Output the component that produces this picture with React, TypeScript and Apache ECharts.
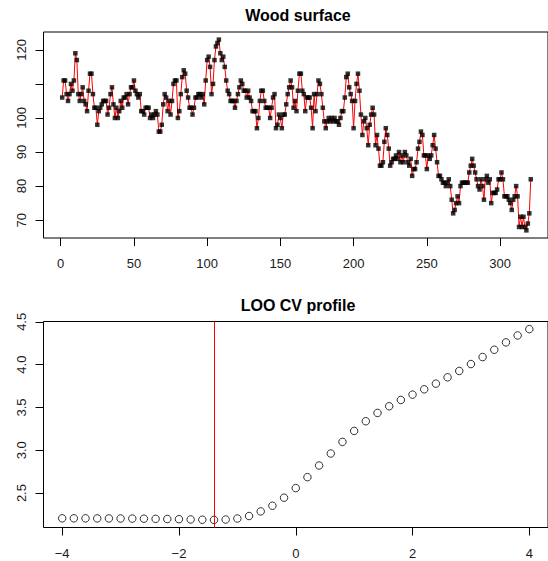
import React, { useEffect, useRef } from "react";
import * as echarts from "echarts";

// Wood surface profile
const surface = [
  106, 111, 111, 107, 105, 107, 110, 108, 111, 119,
  117, 107, 105, 107, 109, 105, 104, 102, 108, 113,
  113, 107, 103, 103, 98, 102, 103, 104, 105, 105,
  105, 101, 103, 107, 109, 104, 100, 103, 100, 102,
  105, 103, 106, 106, 107, 104, 107, 109, 109, 111,
  108, 107, 106, 107, 102, 102, 101, 103, 103, 103,
  100, 101, 100, 101, 102, 101, 96, 96, 98, 104,
  107, 106, 102, 105, 101, 105, 110, 111, 111, 100,
  102, 107, 112, 114, 113, 108, 106, 103, 103, 101,
  103, 106, 106, 107, 107, 106, 107, 104, 111, 117,
  118, 115, 107, 110, 117, 121, 122, 123, 119, 117,
  118, 115, 111, 108, 107, 105, 105, 105, 103, 105,
  107, 109, 111, 110, 108, 108, 106, 108, 106, 105,
  102, 102, 102, 97, 100, 105, 108, 108, 105, 103,
  103, 103, 100, 103, 106, 107, 97, 98, 101, 100,
  97, 101, 101, 104, 107, 109, 111, 109, 103, 105,
  102, 108, 113, 113, 108, 107, 102, 106, 106, 106,
  103, 97, 107, 102, 107, 111, 110, 107, 103, 99,
  97, 99, 100, 99, 100, 99, 100, 99, 99, 98,
  100, 102, 102, 106, 112, 113, 109, 107, 105, 97,
  105, 110, 113, 108, 101, 95, 99, 100, 97, 92,
  98, 101, 103, 101, 92, 95, 91, 86, 86, 87,
  93, 97, 95, 91, 86, 87, 88, 88, 89, 88,
  90, 87, 89, 87, 90, 89, 87, 86, 88, 83,
  85, 85, 87, 91, 93, 96, 95, 89, 89, 85,
  89, 88, 89, 92, 95, 91, 87, 83, 83, 82,
  81, 81, 80, 81, 82, 80, 76, 72, 73, 75,
  77, 75, 80, 81, 81, 81, 81, 81, 84, 86,
  88, 86, 84, 82, 80, 79, 82, 80, 76, 82,
  83, 81, 82, 75, 78, 78, 78, 79, 82, 82,
  84, 82, 77, 77, 77, 76, 75, 73, 76, 77,
  80, 77, 68, 71, 68, 71, 68, 67, 69, 72, 82,
];
const topXTicks = [0, 50, 100, 150, 200, 250, 300];
const topYTicks = [70, 80, 90, 100, 110, 120];
const topYLabels = [70, 80, 90, 100, 120];

// LOO CV profile
const lambda = [
  -4, -3.8, -3.6, -3.4, -3.2, -3, -2.8, -2.6, -2.4, -2.2, -2, -1.8, -1.6, -1.4,
  -1.2, -1, -0.8, -0.6, -0.4, -0.2, 0, 0.2, 0.4, 0.6, 0.8, 1, 1.2, 1.4, 1.6,
  1.8, 2, 2.2, 2.4, 2.6, 2.8, 3, 3.2, 3.4, 3.6, 3.8, 4,
];
const cvScore = [
  2.205, 2.205, 2.205, 2.204, 2.204, 2.203, 2.202, 2.201, 2.199, 2.197, 2.195,
  2.192, 2.189, 2.187, 2.191, 2.203, 2.232, 2.286, 2.352, 2.446, 2.558, 2.686,
  2.822, 2.962, 3.098, 3.226, 3.339, 3.436, 3.514, 3.588, 3.65, 3.712, 3.778,
  3.852, 3.926, 4.007, 4.089, 4.174, 4.26, 4.341, 4.415,
];
const bottomXTicks = [-4, -2, 0, 2, 4];
const bottomYTicks = [2.5, 3, 3.5, 4, 4.5];
const lambdaOpt = -1.4;

const FONT = "'Liberation Sans', Arial, Helvetica, sans-serif";

export default function App() {
  const ref = useRef<HTMLDivElement>(null);
  useEffect(() => {
    document.body.style.margin = "0";
    if (!ref.current) return;
    const chart = echarts.init(ref.current, undefined, { renderer: "svg" });
    const labelStyle = { fontSize: 13, color: "#1a1a1a", fontFamily: FONT };
    const tickStyle = { color: "#000", width: 1 };
    const hiddenLine = { show: false, onZero: false };
    const minusFmt = (v: number) => (v < 0 ? "\u2212" + Math.abs(v) : String(v));
    const option: any = {
      animation: false,
      grid: [
        { left: 43.5, top: 32, width: 515, height: 206, show: true, borderColor: "#000", borderWidth: 1 },
        { left: 43.5, top: 321.5, width: 515, height: 206, show: true, borderColor: "#000", borderWidth: 1 },
      ],
      xAxis: [
        {
          type: "value", gridIndex: 0, min: -11.76, max: 332.76,
          axisLine: hiddenLine, splitLine: { show: false },
          axisTick: { show: true, customValues: topXTicks, length: 8, lineStyle: tickStyle },
          axisLabel: { ...labelStyle, customValues: topXTicks, margin: 19, formatter: minusFmt },
        },
        {
          type: "value", gridIndex: 1, min: -4.32, max: 4.32,
          axisLine: hiddenLine, splitLine: { show: false },
          axisTick: { show: true, customValues: bottomXTicks, length: 8, lineStyle: tickStyle },
          axisLabel: { ...labelStyle, customValues: bottomXTicks, margin: 19, formatter: minusFmt },
        },
      ],
      yAxis: [
        {
          type: "value", gridIndex: 0, min: 64.76, max: 125.24,
          axisLine: hiddenLine, splitLine: { show: false },
          axisTick: { show: true, customValues: topYTicks, length: 8, lineStyle: tickStyle },
          axisLabel: { ...labelStyle, customValues: topYLabels, rotate: 90, margin: 16 },
        },
        {
          type: "value", gridIndex: 1, min: 2.098, max: 4.504,
          axisLine: hiddenLine, splitLine: { show: false },
          axisTick: { show: true, customValues: bottomYTicks, length: 8, lineStyle: tickStyle },
          axisLabel: {
            ...labelStyle, customValues: bottomYTicks, rotate: 90, margin: 16,
            formatter: (v: number) => v.toFixed(1),
          },
        },
      ],
      graphic: [
        {
          type: "text", x: 298, y: 15.5,
          style: { text: "Wood surface", fill: "#000", font: `bold 16px ${FONT}`, align: "center", verticalAlign: "middle" },
        },
        {
          type: "text", x: 298, y: 305,
          style: { text: "LOO CV profile", fill: "#000", font: `bold 16px ${FONT}`, align: "center", verticalAlign: "middle" },
        },
      ],
      series: [
        {
          type: "line", xAxisIndex: 0, yAxisIndex: 0,
          data: surface.map((v, i) => [i + 1, v]),
          symbol: "none", showSymbol: false,
          lineStyle: { color: "#ff0000", width: 1 },
          z: 2,
        },
        {
          type: "scatter", xAxisIndex: 0, yAxisIndex: 0,
          data: surface.map((v, i) => [i + 1, v]),
          symbol: "rect", symbolSize: 4.5,
          itemStyle: { color: "#000" },
          z: 3,
        },
        {
          type: "scatter", xAxisIndex: 1, yAxisIndex: 1,
          data: lambda.map((x, i) => [x, cvScore[i]]),
          symbol: "circle", symbolSize: 7.5,
          itemStyle: { color: "rgba(0,0,0,0)", borderColor: "#000", borderWidth: 1 },
          markLine: {
            silent: true, symbol: ["none", "none"], label: { show: false },
            lineStyle: { color: "#ff0000", width: 1, type: "solid" },
            data: [{ xAxis: lambdaOpt }],
          },
        },
      ],
    };
    chart.setOption(option);
    return () => chart.dispose();
  }, []);
  return <div ref={ref} style={{ width: 548, height: 561, position: "absolute", left: 0, top: 0 }} />;
}
